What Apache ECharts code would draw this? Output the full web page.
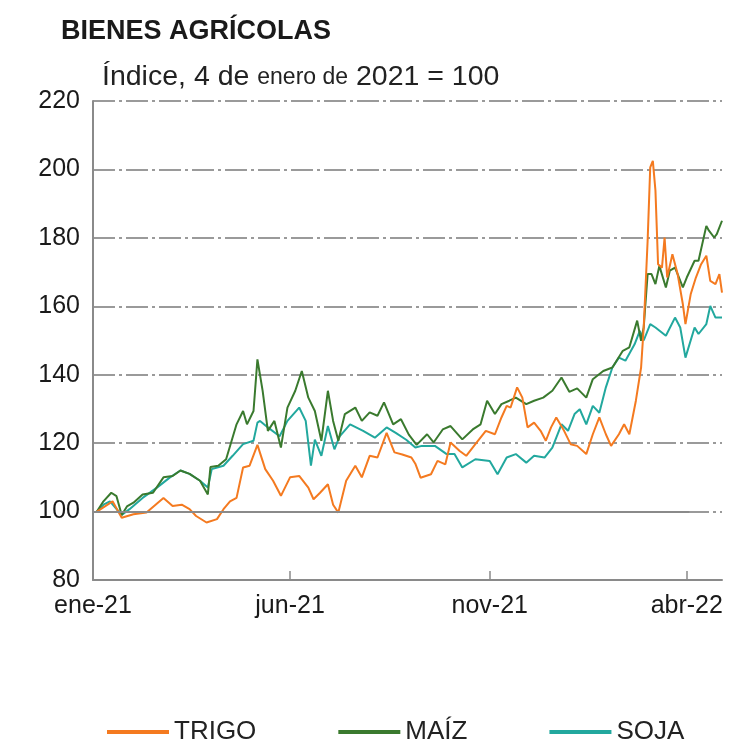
<!DOCTYPE html>
<html>
<head>
<meta charset="utf-8">
<script src="https://cdn.jsdelivr.net/npm/echarts@6/dist/echarts.min.js"></script>
<style>
html,body{margin:0;padding:0;background:#fff;}
#chart{width:731px;height:743px;}
</style>
</head>
<body>
<div id="chart"></div>
<script>
// ---- Data ----
const TITLE = "BIENES AGRÍCOLAS";
const SERIES_NAMES = ["TRIGO", "MAÍZ", "SOJA"];
const X_TICK_DATES = ["2021-01-01", "2021-06-01", "2021-11-01", "2022-04-01"];
const X_TICK_LABELS = ["ene-21", "jun-21", "nov-21", "abr-22"];
const Y_TICKS = [80, 100, 120, 140, 160, 180, 200, 220];

const TRIGO = [
["2021-01-04",100],["2021-01-16",103],["2021-01-23",98.2],["2021-02-01",99.2],["2021-02-11",99.7],
["2021-02-24",104],["2021-03-03",101.6],["2021-03-10",102],["2021-03-16",100.7],["2021-03-21",98.7],
["2021-03-29",96.8],["2021-04-06",97.8],["2021-04-11",100.7],["2021-04-16",103],["2021-04-21",104],
["2021-04-26",112.9],["2021-05-01",113.4],["2021-05-07",119.5],["2021-05-13",112.4],["2021-05-19",109],
["2021-05-25",104.6],["2021-06-01",110],["2021-06-08",110.4],["2021-06-15",107],["2021-06-19",103.6],
["2021-06-24",105.5],["2021-06-30",108],["2021-07-04",102],["2021-07-08",99.7],["2021-07-14",109],
["2021-07-21",113.4],["2021-07-26",110],["2021-08-01",116.3],["2021-08-07",115.8],["2021-08-14",123],
["2021-08-20",117.3],["2021-08-26",116.7],["2021-09-02",115.8],["2021-09-05",114],["2021-09-09",109.9],
["2021-09-17",110.9],["2021-09-22",114.8],["2021-09-28",113.8],["2021-10-02",120.2],["2021-10-09",117.7],
["2021-10-14",116.3],["2021-10-21",119.7],["2021-10-29",123.6],["2021-11-05",122.6],["2021-11-10",127.5],
["2021-11-14",130.9],["2021-11-17",130.4],["2021-11-22",136.3],["2021-11-26",133.3],["2021-11-30",124.6],
["2021-12-05",126],["2021-12-10",123.6],["2021-12-14",120.7],["2021-12-18",124.6],["2021-12-22",127.5],
["2021-12-28",123.6],["2022-01-02",119.7],["2022-01-07",119.2],["2022-01-14",116.8],["2022-01-19",122.6],
["2022-01-24",127.5],["2022-01-29",122.6],["2022-02-02",119.2],["2022-02-08",122.6],["2022-02-12",125.5],
["2022-02-16",122.6],["2022-02-21",132.4],["2022-02-25",142.1],["2022-02-27",153.8],["2022-03-02",179.1],
["2022-03-04",200.6],["2022-03-06",202.5],["2022-03-08",193.8],["2022-03-10",172.3],["2022-03-13",171.3],
["2022-03-15",180.1],["2022-03-17",168.4],["2022-03-21",175.2],["2022-03-25",169.4],["2022-03-29",160.6],
["2022-03-31",154.8],["2022-04-04",163.5],["2022-04-08",168.4],["2022-04-12",172.3],["2022-04-16",174.8],
["2022-04-19",167.4],["2022-04-23",166.5],["2022-04-26",169.4],["2022-04-28",164]
];

const MAIZ = [
["2021-01-04",100],["2021-01-09",103],["2021-01-15",105.5],["2021-01-19",104.5],["2021-01-23",99],
["2021-01-27",101.5],["2021-02-01",102.6],["2021-02-08",105],["2021-02-16",105.5],["2021-02-24",110],
["2021-03-03",110.4],["2021-03-09",112],["2021-03-16",111],["2021-03-24",109],["2021-03-30",105],
["2021-04-01",113],["2021-04-07",113.4],["2021-04-13",115.3],["2021-04-21",125.5],["2021-04-26",129.4],
["2021-04-29",125.5],["2021-05-04",129.4],["2021-05-07",144.5],["2021-05-11",135.3],["2021-05-15",123.6],
["2021-05-20",126.5],["2021-05-25",118.7],["2021-05-30",130.4],["2021-06-05",135.3],["2021-06-10",141.1],
["2021-06-15",133.3],["2021-06-20",129.4],["2021-06-25",120.7],["2021-06-30",135.3],["2021-07-04",126.5],
["2021-07-08",120.7],["2021-07-13",128.5],["2021-07-21",130.4],["2021-07-26",126.5],["2021-08-01",129],
["2021-08-07",128],["2021-08-12",131.9],["2021-08-19",125.5],["2021-08-25",127],["2021-08-31",122.5],
["2021-09-06",119.5],["2021-09-14",122.6],["2021-09-19",120.2],["2021-09-26",124],["2021-10-02",125],
["2021-10-11",121.1],["2021-10-19",124],["2021-10-25",125.5],["2021-10-30",132.4],["2021-11-05",128.5],
["2021-11-10",131.4],["2021-11-16",132.4],["2021-11-21",133.3],["2021-11-29",131.4],["2021-12-05",132.4],
["2021-12-12",133.3],["2021-12-19",135.3],["2021-12-26",139.2],["2022-01-01",135],["2022-01-07",136],
["2022-01-14",133.3],["2022-01-19",138.7],["2022-01-27",141.1],["2022-02-03",142.1],["2022-02-11",147],
["2022-02-16",148],["2022-02-22",155.8],["2022-02-25",149.9],["2022-02-27",153.8],["2022-03-02",169.4],
["2022-03-05",169.4],["2022-03-08",166.5],["2022-03-11",171.8],["2022-03-16",165.5],["2022-03-19",170.4],
["2022-03-23",171.3],["2022-03-29",165.5],["2022-04-01",168.4],["2022-04-07",173.3],["2022-04-10",173.3],
["2022-04-16",183.5],["2022-04-18",182.1],["2022-04-22",180.1],["2022-04-24",181.1],["2022-04-28",185]
];

const SOJA = [
["2021-01-04",100],["2021-01-09",102],["2021-01-14",103],["2021-01-23",99],["2021-01-29",100.7],
["2021-02-08",104],["2021-02-19",107],["2021-03-01",110],["2021-03-09",112],["2021-03-16",111],
["2021-03-24",109],["2021-03-30",107],["2021-04-02",112.4],["2021-04-11",113.4],["2021-04-18",116.3],
["2021-04-26",119.7],["2021-05-04",120.7],["2021-05-07",126],["2021-05-09",126.5],["2021-05-15",124.6],
["2021-05-24",122],["2021-05-30",126.5],["2021-06-08",130.4],["2021-06-13",126.5],["2021-06-17",113.4],
["2021-06-20",121],["2021-06-25",116.3],["2021-06-30",125],["2021-07-05",118.2],["2021-07-09",122],
["2021-07-17",125.5],["2021-07-27",123.6],["2021-08-05",121.6],["2021-08-14",124.6],["2021-08-21",123],
["2021-08-29",121],["2021-09-05",118.7],["2021-09-10",119.2],["2021-09-20",119.2],["2021-09-29",116.8],
["2021-10-05",116.8],["2021-10-11",112.9],["2021-10-21",115.3],["2021-11-01",114.8],["2021-11-07",110.9],
["2021-11-14",115.8],["2021-11-21",116.8],["2021-11-29",114.3],["2021-12-05",116.3],["2021-12-13",115.8],
["2021-12-19",118.7],["2021-12-26",125.5],["2021-12-31",123.6],["2022-01-05",128.5],["2022-01-09",129.9],
["2022-01-14",125.5],["2022-01-19",130.9],["2022-01-24",128.9],["2022-01-29",136.3],["2022-02-03",142.1],
["2022-02-08",145],["2022-02-13",144.1],["2022-02-20",148.9],["2022-02-24",152.8],["2022-02-27",150],
["2022-03-04",154.8],["2022-03-08",153.8],["2022-03-16",151.4],["2022-03-23",156.7],["2022-03-27",153.8],
["2022-03-31",145],["2022-04-07",153.8],["2022-04-10",151.9],["2022-04-16",154.8],["2022-04-19",160.1],
["2022-04-23",156.7],["2022-04-28",156.7]
];

const X_MIN = "2021-01-01";
const X_MAX = "2022-04-28";
const BASE_END = "2022-04-03";

// ---- Chart ----
const FONT = "'Liberation Sans', Arial, Helvetica, sans-serif";
const COLORS = ["#f47a20", "#3a7a2e", "#22a89e"];
const ts = d => new Date(d + "T00:00:00Z").getTime();
const tickTs = X_TICK_DATES.map(ts);
const labelMap = {};
tickTs.forEach((t, i) => labelMap[t] = X_TICK_LABELS[i]);
const toTs = arr => arr.map(p => [ts(p[0]), p[1]]);

const chart = echarts.init(document.getElementById('chart'), null, {renderer: 'canvas'});
chart.setOption({
  animation: false,
  backgroundColor: '#fff',
  textStyle: {fontFamily: FONT},
  title: [
    {text: TITLE, left: 61, top: 18, padding: 0,
     textStyle: {fontFamily: FONT, fontSize: 27, fontWeight: 'bold', color: '#1a1a1a'}},
    {text: '{b|Índice, 4 de }{s|enero de}{b| 2021 = 100}', left: 102, top: 63, padding: 0,
     textStyle: {fontWeight: 'normal', rich: {
       b: {fontFamily: FONT, fontSize: 28.5, fontWeight: 'normal', color: '#222'},
       s: {fontFamily: FONT, fontSize: 23, fontWeight: 'normal', color: '#222'}
     }}}
  ],
  color: COLORS,
  legend: {
    data: SERIES_NAMES,
    left: 107, top: 719, padding: 0,
    icon: 'rect', itemWidth: 62, itemHeight: 4, itemGap: 82,
    textStyle: {fontFamily: FONT, fontSize: 26, color: '#222'}
  },
  grid: {left: 93, right: 9, top: 101, bottom: 163, containLabel: false},
  xAxis: {
    type: 'value',
    min: ts(X_MIN), max: ts(X_MAX),
    axisLine: {show: true, lineStyle: {color: '#8a8a8a', width: 2}},
    axisTick: {show: true, inside: true, length: 9, customValues: tickTs.slice(1),
               lineStyle: {color: '#8a8a8a', width: 1.5}},
    axisLabel: {show: true, customValues: tickTs, margin: 14,
                fontFamily: FONT, fontSize: 25, color: '#1a1a1a',
                formatter: v => labelMap[v] || ''},
    splitLine: {show: false}
  },
  yAxis: {
    type: 'value', min: Y_TICKS[0], max: Y_TICKS[Y_TICKS.length-1], interval: 20,
    axisLine: {show: true, lineStyle: {color: '#8a8a8a', width: 2}},
    axisTick: {show: false},
    axisLabel: {fontFamily: FONT, fontSize: 25, color: '#1a1a1a', margin: 13},
    splitLine: {show: true, lineStyle: {color: '#9a9a9a', width: 2, type: [22, 4, 3, 4]}}
  },
  series: [
    {name: SERIES_NAMES[0], type: 'line', data: toTs(TRIGO), showSymbol: false,
     lineStyle: {width: 2, color: COLORS[0]}, z: 4,
     markLine: {silent: true, symbol: 'none', label: {show: false},
       lineStyle: {type: 'solid', color: '#8a8a8a', width: 2},
       data: [[{coord: [ts(X_MIN), 100]}, {coord: [ts(BASE_END), 100]}]]}},
    {name: SERIES_NAMES[1], type: 'line', data: toTs(MAIZ), showSymbol: false,
     lineStyle: {width: 2, color: COLORS[1]}, z: 3},
    {name: SERIES_NAMES[2], type: 'line', data: toTs(SOJA), showSymbol: false,
     lineStyle: {width: 2, color: COLORS[2]}, z: 2}
  ]
});
</script>
</body>
</html>
